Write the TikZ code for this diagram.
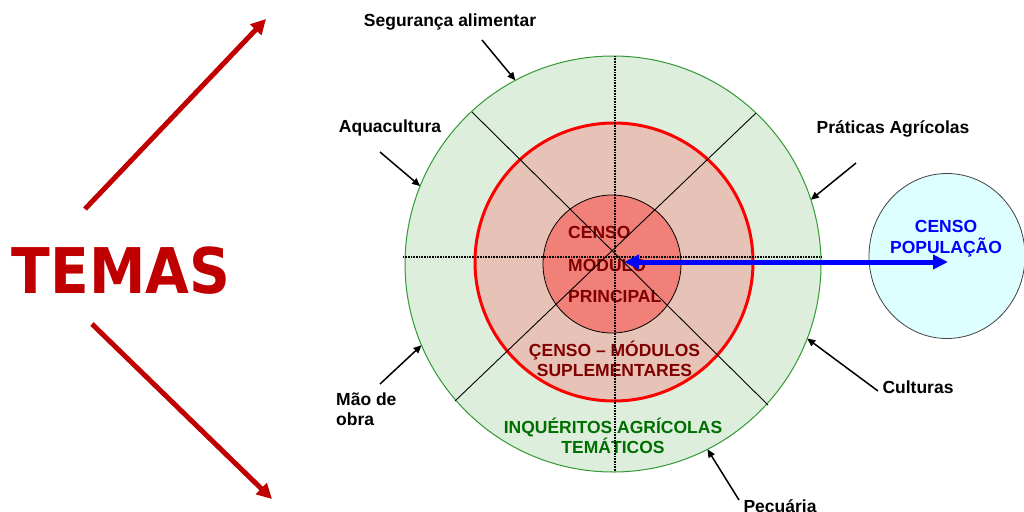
\documentclass[tikz,border=0pt]{standalone}
\usepackage{fontspec}
\setmainfont{Liberation Sans}
\newfontfamily\temasfont[FakeStretch=0.9]{DejaVu Sans}
\usetikzlibrary{arrows.meta,shapes.geometric}
\definecolor{outerfill}{RGB}{221,238,221}
\definecolor{outerline}{RGB}{51,153,51}
\definecolor{ringfill}{RGB}{230,195,182}
\definecolor{corefill}{RGB}{240,128,120}
\definecolor{cyanfill}{RGB}{221,255,255}
\definecolor{darkredtxt}{RGB}{128,0,0}
\definecolor{greentxt}{RGB}{0,110,0}
\definecolor{bluetxt}{RGB}{0,0,255}
\definecolor{temasred}{RGB}{192,0,0}
\begin{document}
\begin{tikzpicture}[x=1pt,y=-1pt,
  disc/.style={circle,inner sep=0pt,outer sep=0pt},
  lbl/.style={font=\fontsize{17.5}{21}\selectfont\bfseries,inner sep=0pt,anchor=base},
  lblw/.style={lbl,anchor=base west},
  pointer/.style={line width=1.5pt,-{Triangle[length=8pt,width=7pt]}},
  redarrow/.style={draw=temasred,line width=5pt,-{Triangle[length=15pt,width=15pt]}},
  bluearrow/.style={draw=bluetxt,line width=5pt,{Triangle[length=15pt,width=14pt]}-{Triangle[length=15pt,width=14pt]}},
  axisline/.style={line width=1.3pt,dash pattern=on 1pt off 0.6pt},
  spoke/.style={line width=0.9pt}]
\useasboundingbox[fill=white] (0,0) rectangle (1024,511);

% circles
\node[disc,draw=outerline,fill=outerfill,line width=1pt,minimum size=416pt] (outer) at (613,264) {};
\node[disc,draw=red,fill=ringfill,line width=3pt,minimum size=278pt] (ring) at (614,262) {};
\node[disc,draw=black,fill=corefill,line width=0.8pt,minimum size=138pt] (core) at (612,264) {};
\node[ellipse,inner sep=0pt,outer sep=0pt,draw=black!75,fill=cyanfill,line width=0.8pt,minimum width=156pt,minimum height=165pt] (pop) at (947,256) {};

% texts inside the circles
\node[lblw,text=darkredtxt] (t1) at (568,238) {CENSO};
\node[lblw,text=darkredtxt] (t2) at (568,271) {MODULO};
\node[lblw,text=darkredtxt] (t3) at (568,302) {PRINCIPAL};
\node[lbl,text=darkredtxt] (s1) at (614.5,356) {ÇENSO – MÓDULOS};
\node[lbl,text=darkredtxt] (s2) at (614.5,376) {SUPLEMENTARES};
\node[lbl,text=greentxt] (g1) at (613,433) {INQUÉRITOS AGRÍCOLAS};
\node[lbl,text=greentxt] (g2) at (613,453) {TEMÁTICOS};
\node[lbl,text=bluetxt] (p1) at (946,232) {CENSO};
\node[lbl,text=bluetxt] (p2) at (946,253) {POPULAÇÃO};

% axes and spokes
\coordinate (hl) at (403,257); \coordinate (hr) at (822,257);
\coordinate (vt) at (615,56);  \coordinate (vb) at (615,472);
\coordinate (d1a) at (472,112); \coordinate (d1b) at (768,405);
\coordinate (d2a) at (756,113); \coordinate (d2b) at (455,401);
\draw[axisline] (hl) -- (hr);
\draw[axisline] (vt) -- (vb);
\draw[spoke] (d1a) -- (d1b);
\draw[spoke] (d2a) -- (d2b);

% blue double arrow
\coordinate (ctr) at (624,262); \coordinate (popin) at (948,262);
\draw[bluearrow] (ctr) -- (popin);

% outside labels
\node[lbl] (seg) at (450,27) {Segurança alimentar};
\node[lbl] (aqua) at (390,132) {Aquacultura};
\node[lbl] (prat) at (893,133) {Práticas Agrícolas};
\node[lbl] (cult) at (918,393) {Culturas};
\node[lblw] (mao) at (336,405) {Mão de};
\node[lblw] (obra) at (336,425) {obra};
\node[lbl] (pec) at (780,512.5) {Pecuária};

\coordinate (segs) at (482,40);
\coordinate (aquas) at (380,152);
\coordinate (prats) at (856,163);
\coordinate (cults) at (878,391);
\coordinate (maos) at (380,384);
\coordinate (pecs) at (739,500);
\draw[pointer] (segs) -- (outer.118.4);
\draw[pointer] (aquas) -- (outer.158.7);
\draw[pointer] (prats) -- (outer.18.9);
\draw[pointer] (cults) -- (outer.-21.2);
\draw[pointer] (maos) -- (outer.203.1);
\draw[pointer] (pecs) -- (outer.-63.7);

% TEMAS
\node[inner sep=0pt,anchor=base,text=temasred,font=\temasfont\fontsize{63}{63}\selectfont\bfseries] (temas) at (121,293) {TEMAS};
\coordinate (up0) at (85,209); \coordinate (up1) at (266,19);
\coordinate (dn0) at (92,324); \coordinate (dn1) at (272,499);
\draw[redarrow] (up0) -- (up1);
\draw[redarrow] (dn0) -- (dn1);
\end{tikzpicture}
\end{document}
